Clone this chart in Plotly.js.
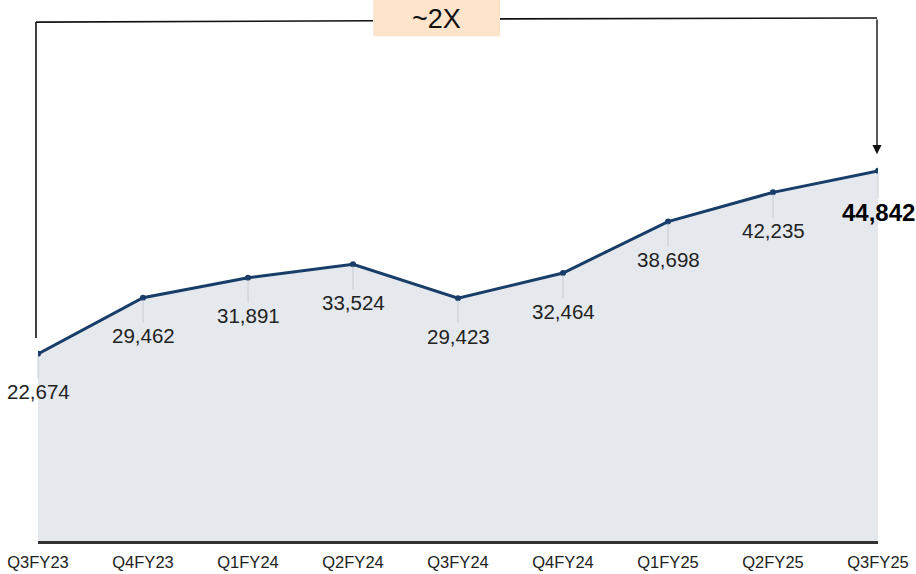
<!DOCTYPE html>
<html>
<head>
<meta charset="utf-8">
<script src="https://cdn.plot.ly/plotly-3.0.1.min.js"></script>
<style>html,body{margin:0;padding:0;background:#fff;}#chart{width:916px;height:574px;}</style>
</head>
<body>
<div id="chart"></div>
<script>
const quarters = ["Q3FY23","Q4FY23","Q1FY24","Q2FY24","Q3FY24","Q4FY24","Q1FY25","Q2FY25","Q3FY25"];
const values = [22674, 29462, 31891, 33524, 29423, 32464, 38698, 42235, 44842];
const growthLabel = "~2X";

const fmt = v => v.toLocaleString("en-US");
const last = values.length - 1;

const annotations = values.map((v, i) => ({
  x: i, y: v, xref: "x", yref: "y",
  text: i === last ? "<b>" + fmt(v) + "</b>" : fmt(v),
  showarrow: true, arrowhead: 0, arrowwidth: 1, arrowcolor: "#c8ccd2",
  ax: 0, ay: i === last ? 42 : 38,
  standoff: 2, startstandoff: 0,
  font: {family: "Liberation Sans, Arial, sans-serif", size: i === last ? 24 : 20.5, color: i === last ? "#000" : "#222"},
  xanchor: "center", yanchor: "middle"
}));

// growth callout
annotations.push({
  xref: "paper", yref: "paper", x: 0.4745, y: 1.149,
  text: growthLabel, showarrow: false,
  font: {family: "Liberation Sans Narrow, Liberation Sans, Arial", size: 27, color: "#111"},
  xanchor: "center", yanchor: "middle"
});
// arrow down to the last point
annotations.push({
  xref: "paper", yref: "paper", x: 0.9988, y: 0.852,
  ax: 0.9988, ay: 1.152, axref: "paper", ayref: "paper",
  text: "", showarrow: true, arrowhead: 2, arrowsize: 1.3, arrowwidth: 1.4, arrowcolor: "#111"
});

const lineStyle = {color: "#111", width: 1.6};
const shapes = [
  {type: "line", xref: "paper", yref: "paper", x0: -0.0024, x1: -0.0024, y0: 0.447, y1: 1.143, line: lineStyle},
  {type: "line", xref: "paper", yref: "paper", x0: -0.0024, x1: 0.399, y0: 1.143, y1: 1.146, line: lineStyle},
  {type: "rect", xref: "paper", yref: "paper", x0: 0.399, x1: 0.55, y0: 1.112, y1: 1.192, fillcolor: "#fde4cb", line: {width: 0}},
  {type: "line", xref: "paper", yref: "paper", x0: 0.55, x1: 0.9988, y0: 1.150, y1: 1.152, line: lineStyle}
];

const trace = {
  x: quarters.map((q, i) => i),
  y: values,
  type: "scatter",
  mode: "lines+markers",
  fill: "tozeroy",
  fillcolor: "#e5e9ee",
  line: {color: "#173d68", width: 3},
  marker: {color: "#173d68", size: 6},
  hoverinfo: "skip"
};

const layout = {
  width: 916, height: 574,
  margin: {l: 38, r: 38, t: 87, b: 33},
  paper_bgcolor: "#fff", plot_bgcolor: "#fff",
  showlegend: false,
  xaxis: {
    range: [0, last], tickmode: "array", tickvals: quarters.map((q, i) => i), ticktext: quarters,
    showgrid: false, zeroline: false, showline: true, linecolor: "#333", linewidth: 2.5,
    ticks: "", ticklabelstandoff: 5,
    tickfont: {family: "Liberation Sans, Arial, sans-serif", size: 16.5, color: "#222"}
  },
  yaxis: {range: [0, 55000], visible: false, showgrid: false, zeroline: false},
  shapes: shapes,
  annotations: annotations
};

Plotly.newPlot("chart", [trace], layout, {displayModeBar: false, staticPlot: true});
</script>
</body>
</html>
